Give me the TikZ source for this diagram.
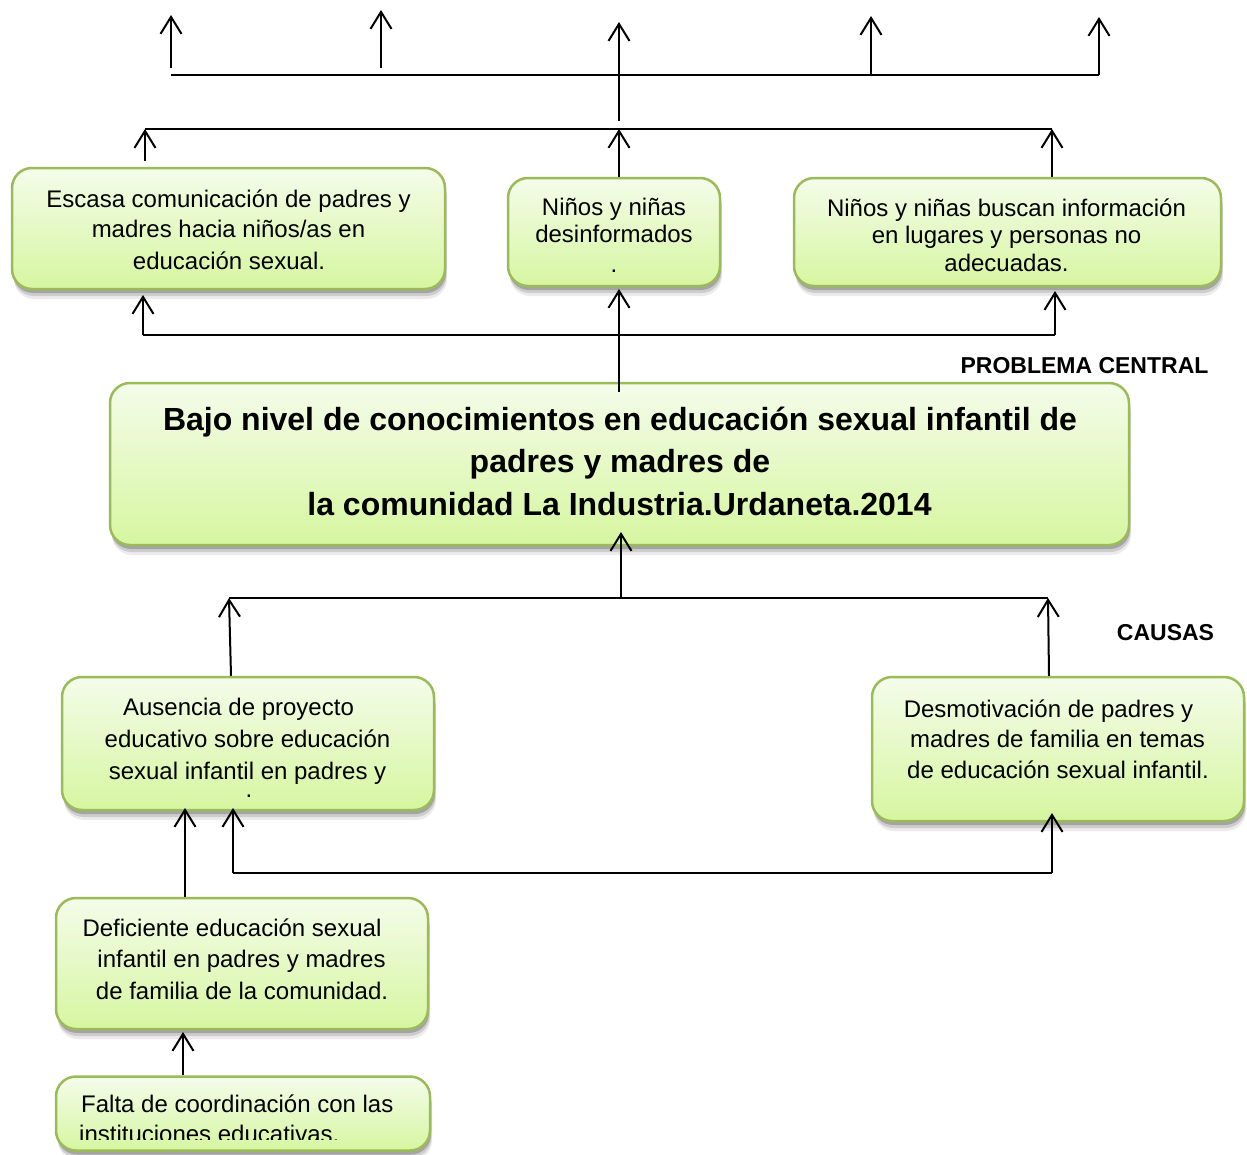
\documentclass[tikz,border=0pt]{standalone}
\usepackage{fontspec}
\setmainfont{Liberation Sans}
\usetikzlibrary{arrows.meta,shadows}
\definecolor{boxedge}{RGB}{155,187,89}
\definecolor{boxtop}{RGB}{244,252,234}
\definecolor{boxbot}{RGB}{214,246,160}
\tikzset{
  shad/.style={
    drop shadow={shadow xshift=2pt,shadow yshift=-10pt,opacity=.08,fill=black},
    drop shadow={shadow xshift=1.5pt,shadow yshift=-7pt,opacity=.13,fill=black},
    drop shadow={shadow xshift=1pt,shadow yshift=-4pt,opacity=.2,fill=black}},
  box/.style={shad,draw=boxedge,line width=2.5pt,rounded corners=20pt,
    top color=boxtop,bottom color=boxbot,inner sep=0pt},
  txt/.style={font=\fontsize{24}{30}\selectfont,text height=17pt,text depth=5pt,inner sep=0pt},
  btxt/.style={font=\bfseries\fontsize{32}{42}\selectfont,text height=23pt,text depth=7pt,inner sep=0pt},
  lbl/.style={font=\bfseries\fontsize{23}{28}\selectfont,text height=16.5pt,text depth=0pt,inner sep=0pt},
  arr/.style={line width=2pt,-{Straight Barb[length=17pt,width=21pt]}},
  ln/.style={line width=2pt}
}
\begin{document}
\begin{tikzpicture}[x=1pt,y=-1pt]
\useasboundingbox (0,0) rectangle (1247,1154);

% ---- boxes
\node[box,minimum width=433pt,minimum height=121pt] (A) at (228.5,228.5) {};
\node[box,minimum width=212pt,minimum height=108pt] (B) at (614,232) {};
\node[box,minimum width=427pt,minimum height=108pt] (C) at (1007.5,232) {};
\node[box,minimum width=1019pt,minimum height=162pt] (P) at (619.5,464) {};
\node[box,minimum width=372pt,minimum height=133pt] (D) at (248,743.5) {};
\node[box,minimum width=372pt,minimum height=144pt] (E) at (1058,749) {};
\node[box,minimum width=372pt,minimum height=131pt] (F) at (242,963.5) {};
\node[box,minimum width=374pt,minimum height=74pt] (G) at (243,1113.5) {};

% ---- texts
\node[txt] (a1) at (228.5,201) {Escasa comunicación de padres y};
\node[txt] (a2) at (228.5,231) {madres hacia niños/as en};
\node[txt] (a3) at (229,263) {educación sexual.};
\node[txt] (b1) at (614,209) {Niños y niñas};
\node[txt] (b2) at (614,236) {desinformados};
\node[txt] (b3) at (614,266) {.};
\node[txt] (c1) at (1006.5,210) {Niños y niñas buscan información};
\node[txt] (c2) at (1006.5,237) {en lugares y personas no};
\node[txt] (c3) at (1006.5,265) {adecuadas.};
\node[btxt] (p1) at (620,422) {Bajo nivel de conocimientos en educación sexual infantil de};
\node[btxt] (p2) at (620,464) {padres y madres de};
\node[btxt] (p3) at (619.5,507) {la comunidad La Industria.Urdaneta.2014};
\node[txt] (d1) at (238.5,709) {Ausencia de proyecto};
\node[txt] (d2) at (247.5,741) {educativo sobre educación};
\node[txt] (d3) at (247.5,773) {sexual infantil en padres y};
\node[txt,text height=4pt,text depth=0pt] (d4) at (249,795) {.};
\node[txt] (e1) at (1048.5,711) {Desmotivación de padres y};
\node[txt] (e2) at (1057.5,741) {madres de familia en temas};
\node[txt] (e3) at (1058,772) {de educación sexual infantil.};
\node[txt] (f1) at (232,930) {Deficiente educación sexual};
\node[txt] (f2) at (241.5,961) {infantil en padres y madres};
\node[txt] (f3) at (242,993) {de familia de la comunidad.};
\node[txt,anchor=west] (g1) at (81,1106) {Falta de coordinación con las};
\begin{scope}
  \clip (0,1100) rectangle (1247,1139.5);
  \node[txt,anchor=west] (g2) at (79,1136) {instituciones educativas.};
\end{scope}
\node[lbl] (lp) at (1084.5,365) {PROBLEMA CENTRAL};
\node[lbl] (lc) at (1165.5,632) {CAUSAS};

% ---- top bar (effects)
\coordinate (tb1) at (171,75);
\coordinate (tb2) at (1099,75);
\coordinate (u4s) at (871,75);
\coordinate (u1s) at (171,68);  \coordinate (u1e) at (171,15);
\coordinate (u2s) at (381,68);  \coordinate (u2e) at (381,10);
\coordinate (u3s) at (619,121); \coordinate (u3e) at (619,22);
\coordinate (u4e) at (871,16);
\coordinate (u5e) at (1099,17);
\draw[ln] (tb1) -- (tb2);
\draw[arr] (u1s) -- (u1e);
\draw[arr] (u2s) -- (u2e);
\draw[arr] (u3s) -- (u3e);
\draw[arr] (u4s) -- (u4e);
\draw[arr] (tb2) -- (u5e);

% ---- second bar
\coordinate (sb1) at (145,129);
\coordinate (sbm) at (619,129);
\coordinate (sb2) at (1052,129);
\coordinate (sa1) at (145,161);
\draw[ln] (sb1) -- (sb2);
\draw[arr] (sa1) -- (sb1);
\draw[arr] (sbm |- B.north) -- (sbm);
\draw[arr] (sb2 |- C.north) -- (sb2);

% ---- third bar
\coordinate (hb1) at (143,335);
\coordinate (hb2) at (1055,335);
\coordinate (ht1) at (143,295);
\coordinate (ht2) at (1055,291);
\coordinate (pm) at (619,392);
\coordinate (pmt) at (619,289);
\draw[ln] (hb1) -- (hb2);
\draw[arr] (hb1) -- (ht1);
\draw[arr] (hb2) -- (ht2);
\draw[arr] (pm) -- (pmt);

% ---- causes bar
\coordinate (cb1) at (229,598);
\coordinate (cb2) at (1048,598);
\coordinate (cbm) at (621,598);
\coordinate (ptip) at (621,532);
\draw[ln] (cb1) -- (cb2);
\draw[arr] ([xshift=-17pt]D.north) -- (cb1);
\draw[arr] ([xshift=-9pt]E.north) -- (cb2);
\draw[arr] (cbm) -- (ptip);

% ---- lower bar
\coordinate (db1) at (233,873);
\coordinate (db2) at (1052,873);
\coordinate (dt1) at (233,808);
\coordinate (dt2) at (1052,813);
\draw[ln] (db1) -- (db2);
\draw[arr] (db1) -- (dt1);
\draw[arr] (db2) -- (dt2);
\coordinate (fa) at (185,808);
\draw[arr] (F.north -| fa) -- (fa);
\coordinate (ga) at (183,1032);
\draw[arr] (G.north -| ga) -- (ga);
\end{tikzpicture}
\end{document}
